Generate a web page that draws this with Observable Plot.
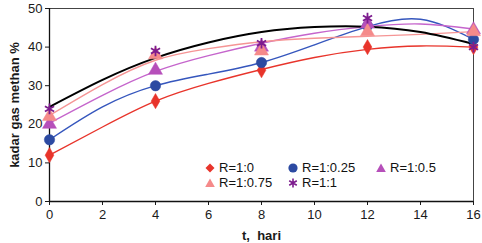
<!DOCTYPE html>
<html>
<head>
<meta charset="utf-8">
<script src="https://cdn.jsdelivr.net/npm/d3@7"></script>
<script src="https://cdn.jsdelivr.net/npm/@observablehq/plot@0.6"></script>
<style>
  html, body { margin: 0; padding: 0; background: #fff; }
  #wrap { position: relative; width: 482px; height: 243px; font-family: "Liberation Sans", Arial, sans-serif; }
  #wrap svg { font-family: "Liberation Sans", Arial, sans-serif; }
  g[aria-label="y-axis label"] text, g[aria-label="x-axis label"] text { font-weight: bold; }
  #legend { position: absolute; left: 204px; top: 160px; font-size: 13px; color: #111; }
  .row { display: flex; height: 15px; align-items: center; }
  .item { display: flex; align-items: center; }
  .item svg { margin-right: 3px; }
</style>
</head>
<body>
<div id="wrap"></div>
<script>
// Observation days
const days = [0, 4, 8, 12, 16];
// Measured methane content (%) per ratio
const seriesNames = ["R=1:0", "R=1:0.25", "R=1:0.5", "R=1:0.75", "R=1:1"];
const valsR1_0    = [12, 26, 34, 40, 40];
const valsR1_025  = [16, 30, 36, 45.5, 42];
const valsR1_05   = [20, 34, 40, 46, 44.5];
const valsR1_075  = [22, 38, 39, 44, 44];
const valsR1_1    = [24, 39, 41, 47.5, 40];

// Trend curves
const trendDays = [0, 2, 4, 6, 8, 10, 12, 14, 16];
const trendR1_0   = [12, 19.3, 26, 30.6, 34.2, 37.3, 39.4, 40.3, 40];
const trendR1_025 = [16, 24.5, 30, 33, 36, 40.6, 45.3, 47.2, 42];
const trendR1_05  = [20.3, 27.5, 33.7, 37.8, 41.0, 43.6, 45.3, 46.0, 44.7];
const trendR1_075 = [22.3, 30.3, 36.6, 39.6, 41.4, 42.3, 42.8, 43.3, 44.0];
const trendR1_1   = [24.5, 31.5, 37.2, 41.2, 43.9, 45.2, 45.3, 43.9, 40.8];

// Axis ticks
const xTicks = [0, 2, 4, 6, 8, 10, 12, 14, 16];
const yTicks = [0, 10, 20, 30, 40, 50];

const markerColors = ["#e8342b", "#2c4aa2", "#b64fba", "#f58a8a", "#7d1c8e"];
const lineColors   = ["#e8342b", "#3556bd", "#c565cc", "#f59595", "#000000"];
const symbols      = ["diamond", "circle", "triangle", "triangle", "asterisk"];
const sizes        = [4.6, 5.2, 5.2, 5.2, 5];

const valueSets = [valsR1_0, valsR1_025, valsR1_05, valsR1_075, valsR1_1];
const trendSets = [trendR1_0, trendR1_025, trendR1_05, trendR1_075, trendR1_1];

const points = valueSets.flatMap((vals, i) => days.map((t, j) => ({t, v: vals[j], s: i})));
const trends = trendSets.flatMap((vals, i) => trendDays.map((t, j) => ({t, v: vals[j], s: i})));

const lineMarks = [1, 2, 3, 0, 4].map(i =>
  Plot.line(trends.filter(d => d.s === i), {x: "t", y: "v", stroke: lineColors[i], strokeWidth: i === 4 ? 2 : 1.4, curve: "natural"})
);
const dotMarks = [0, 1, 2, 3, 4].map(i =>
  Plot.dot(points.filter(d => d.s === i), {
    x: "t", y: "v", symbol: () => symbols[i], r: sizes[i],
    fill: symbols[i] === "asterisk" ? "none" : markerColors[i],
    stroke: markerColors[i], strokeWidth: symbols[i] === "asterisk" ? 1.8 : 0.5
  })
);

const chart = Plot.plot({
  width: 482,
  height: 243,
  marginLeft: 49,
  marginRight: 9,
  marginTop: 8,
  marginBottom: 42,
  style: {fontSize: "13px", color: "#1a1a1a"},
  x: {domain: [0, 16]},
  y: {domain: [0, 50]},
  symbol: {type: "identity"},
  marks: [
    Plot.frame({stroke: "#444", strokeWidth: 1}),
    Plot.axisX({ticks: xTicks, tickSize: 4, tickPadding: 4, label: "t,  hari", labelAnchor: "center", labelArrow: "none", labelOffset: 38, tickFormat: d => d}),
    Plot.axisY({ticks: yTicks, tickSize: 4, tickPadding: 3, label: "kadar gas methan %", labelAnchor: "center", labelArrow: "none", labelOffset: 40, tickFormat: d => d}),
    Plot.ruleX([0], {stroke: "#111", strokeWidth: 1.3}),
    Plot.ruleY([0], {stroke: "#111", strokeWidth: 1.3}),
    ...lineMarks,
    ...dotMarks
  ]
});
const wrap = document.getElementById("wrap");
wrap.appendChild(chart);

// Legend (HTML, inside the plot area)
const legendRows = [[0, 1, 2], [3, 4]];
const itemWidths = [83, 88, 90];
const legend = document.createElement("div");
legend.id = "legend";
const symPath = {
  diamond: "M6,1.5 L10.5,6 L6,10.5 L1.5,6 Z",
  circle: null,
  triangle: "M6,1.5 L10.8,10 L1.2,10 Z",
  asterisk: "M6,1.5 L6,10.5 M2.2,3.8 L9.8,8.2 M2.2,8.2 L9.8,3.8"
};
legendRows.forEach(row => {
  const r = document.createElement("div");
  r.className = "row";
  row.forEach((i, k) => {
    const it = document.createElement("div");
    it.className = "item";
    it.style.width = itemWidths[k] + "px";
    const sym = symbols[i];
    let shape;
    if (sym === "circle") shape = `<circle cx="6" cy="6" r="4.6" fill="${markerColors[i]}"/>`;
    else if (sym === "asterisk") shape = `<path d="${symPath[sym]}" stroke="${markerColors[i]}" stroke-width="1.6" fill="none"/>`;
    else shape = `<path d="${symPath[sym]}" fill="${markerColors[i]}"/>`;
    it.innerHTML = `<svg width="12" height="12">${shape}</svg><span>${seriesNames[i]}</span>`;
    r.appendChild(it);
  });
  legend.appendChild(r);
});
wrap.appendChild(legend);
</script>
</body>
</html>
